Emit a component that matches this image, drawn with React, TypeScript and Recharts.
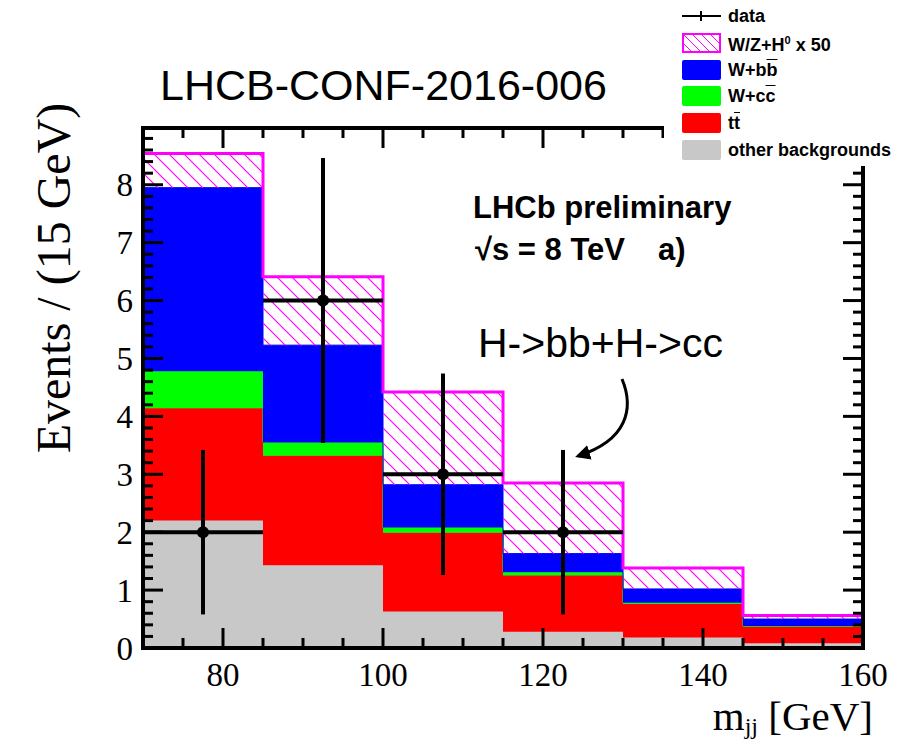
import React from 'react';
import { ComposedChart, Area, Scatter, ErrorBar, XAxis, YAxis } from 'recharts';

// histogram bins (GeV)
const binEdges = [70, 85, 100, 115, 130, 145, 160];

// stacked contributions per bin, bottom to top
const otherBackgrounds = [2.2, 1.43, 0.63, 0.28, 0.18, 0.08];
const ttbar = [1.94, 1.89, 1.36, 0.97, 0.58, 0.29];
const wcc = [0.64, 0.23, 0.09, 0.06, 0.02, 0.01];
const wbb = [3.17, 1.68, 0.74, 0.32, 0.24, 0.12];
const whTimes50 = [0.59, 1.18, 1.6, 1.22, 0.36, 0.06];

// data points
const dataX = [77.5, 92.5, 107.5, 122.5];
const dataY = [2, 6, 3, 2];
const dataErrY = [1.42, 2.46, 1.74, 1.42];
const dataErrX = [7.5, 7.5, 7.5, 7.5];

const xMajorTicks = [80, 100, 120, 140, 160];
const yMajorTicks = [0, 1, 2, 3, 4, 5, 6, 7, 8];
const X_MIN = 70;
const X_MAX = 160;
const Y_MAX = 8.98;

const xAllTicks: number[] = [];
for (let v = X_MIN; v <= X_MAX; v += 5) xAllTicks.push(v);
const yAllTicks: number[] = [];
for (let i = 0; i * 0.2 < Y_MAX; i++) yAllTicks.push(Math.round(i * 2) / 10);

// last edge repeats the last bin so the step reaches 160
const histRows = binEdges.map((x, i) => {
    const b = Math.min(i, otherBackgrounds.length - 1);
    return {
        x,
        other: otherBackgrounds[b],
        tt: ttbar[b],
        wcc: wcc[b],
        wbb: wbb[b],
        wh: whTimes50[b],
    };
});

const points = dataX.map((x, i) => ({ x, y: dataY[i], ex: dataErrX[i], ey: dataErrY[i] }));

const SERIF = '"Liberation Serif", "Times New Roman", serif';
const SANS = '"Liberation Sans", Arial, Helvetica, sans-serif';

const isMajor = (v: number, majors: number[]) => majors.some(m => Math.abs(m - v) < 1e-6);

const BottomTick = (props: any) => {
    const { x, y, payload } = props;
    const major = isMajor(payload.value, xMajorTicks);
    return (
        <g>
            <line x1={x} y1={y} x2={x} y2={y - (major ? 20 : 10)} stroke="#000" strokeWidth={3} />
            {major && (
                <text x={x} y={y + 38} textAnchor="middle" fontFamily={SERIF} fontSize={33} fill="#000">
                    {payload.value}
                </text>
            )}
        </g>
    );
};

const TopTick = (props: any) => {
    const { x, y, payload } = props;
    const major = isMajor(payload.value, xMajorTicks);
    return <line x1={x} y1={y} x2={x} y2={y + (major ? 20 : 10)} stroke="#000" strokeWidth={3} />;
};

const LeftTick = (props: any) => {
    const { x, y, payload } = props;
    const major = isMajor(payload.value, yMajorTicks);
    return (
        <g>
            <line x1={x} y1={y} x2={x + (major ? 20 : 10)} y2={y} stroke="#000" strokeWidth={3} />
            {major && (
                <text x={x - 10} y={y} dy="0.35em" textAnchor="end" fontFamily={SERIF} fontSize={33} fill="#000">
                    {payload.value}
                </text>
            )}
        </g>
    );
};

const RightTick = (props: any) => {
    const { x, y, payload } = props;
    const major = isMajor(payload.value, yMajorTicks);
    return <line x1={x} y1={y} x2={x - (major ? 20 : 10)} y2={y} stroke="#000" strokeWidth={3} />;
};

const DataDot = (props: any) => <circle cx={props.cx} cy={props.cy} r={6} fill="#000" />;

const frameLine = { stroke: '#000', strokeWidth: 4, strokeLinecap: 'square' as const };

const Swatch = ({ color }: { color: string }) => (
    <div style={{ width: 39, height: 20, background: color, borderRadius: 2 }} />
);

const legendRows = [
    {
        swatch: (
            <svg width={39} height={20}>
                <line x1={0} y1={10} x2={39} y2={10} stroke="#000" strokeWidth={2} />
                <line x1={19} y1={5} x2={19} y2={15} stroke="#000" strokeWidth={2} />
            </svg>
        ),
        label: <span>data</span>,
    },
    {
        swatch: (
            <svg width={39} height={20}>
                <defs>
                    <pattern id="hatchLegend" width={9} height={9} patternUnits="userSpaceOnUse">
                        <path d="M-2,-2 L11,11 M-2,7 L2,11 M7,-2 L11,2" stroke="#ff00ff" strokeWidth={1} />
                    </pattern>
                </defs>
                <rect x={1} y={1} width={37} height={18} fill="url(#hatchLegend)" stroke="#ff00ff" strokeWidth={2} />
            </svg>
        ),
        label: (
            <span>
                W/Z+H<sup style={{ fontSize: 11, verticalAlign: 7 }}>0</sup> x 50
            </span>
        ),
    },
    {
        swatch: <Swatch color="#0000ff" />,
        label: (
            <span>
                W+b<span style={{ textDecoration: 'overline' }}>b</span>
            </span>
        ),
    },
    {
        swatch: <Swatch color="#00ff00" />,
        label: (
            <span>
                W+c<span style={{ textDecoration: 'overline' }}>c</span>
            </span>
        ),
    },
    {
        swatch: <Swatch color="#ff0000" />,
        label: (
            <span>
                t<span style={{ textDecoration: 'overline' }}>t</span>
            </span>
        ),
    },
    { swatch: <Swatch color="#c8c8c8" />, label: <span>other backgrounds</span> },
];

export default function App() {
    return (
        <div style={{ position: 'absolute', left: 0, top: 0, width: 922, height: 742, background: '#fff' }}>
            <ComposedChart
                width={922}
                height={742}
                data={histRows}
                margin={{ top: 127, right: 58, bottom: 34, left: 83 }}
            >
                <defs>
                    <pattern id="hatch" width={15} height={15} patternUnits="userSpaceOnUse">
                        <path d="M-2,-2 L17,17 M-2,13 L2,17 M13,-2 L17,2" stroke="#ff00ff" strokeWidth={1.2} />
                    </pattern>
                </defs>

                <Area type="stepAfter" dataKey="other" stackId="s" fill="#c8c8c8" fillOpacity={1} stroke="#c8c8c8" strokeWidth={1} isAnimationActive={false} />
                <Area type="stepAfter" dataKey="tt" stackId="s" fill="#ff0000" fillOpacity={1} stroke="#ff0000" strokeWidth={1} isAnimationActive={false} />
                <Area type="stepAfter" dataKey="wcc" stackId="s" fill="#00ff00" fillOpacity={1} stroke="#00ff00" strokeWidth={1} isAnimationActive={false} />
                <Area type="stepAfter" dataKey="wbb" stackId="s" fill="#0000ff" fillOpacity={1} stroke="#0000ff" strokeWidth={1} isAnimationActive={false} />
                <Area type="stepAfter" dataKey="wh" stackId="s" fill="url(#hatch)" fillOpacity={1} stroke="#ff00ff" strokeWidth={3} isAnimationActive={false} />

                <Scatter data={points} dataKey="y" shape={DataDot} isAnimationActive={false}>
                    <ErrorBar dataKey="ex" direction="x" width={0} stroke="#000" strokeWidth={4} />
                    <ErrorBar dataKey="ey" direction="y" width={0} stroke="#000" strokeWidth={4} />
                </Scatter>

                <XAxis
                    dataKey="x"
                    type="number"
                    domain={[X_MIN, X_MAX]}
                    allowDataOverflow
                    ticks={xAllTicks}
                    interval={0}
                    height={60}
                    tickSize={0}
                    tickMargin={0}
                    tickLine={false}
                    axisLine={frameLine}
                    tick={BottomTick}
                />
                <XAxis
                    xAxisId="top"
                    orientation="top"
                    dataKey="x"
                    type="number"
                    domain={[X_MIN, X_MAX]}
                    allowDataOverflow
                    ticks={xAllTicks}
                    interval={0}
                    height={1}
                    tickSize={0}
                    tickMargin={0}
                    tickLine={false}
                    axisLine={frameLine}
                    tick={TopTick}
                />
                <YAxis
                    type="number"
                    domain={[0, Y_MAX]}
                    allowDataOverflow
                    ticks={yAllTicks}
                    interval={0}
                    width={60}
                    tickSize={0}
                    tickMargin={0}
                    tickLine={false}
                    axisLine={frameLine}
                    tick={LeftTick}
                />
                <YAxis
                    yAxisId="right"
                    orientation="right"
                    type="number"
                    domain={[0, Y_MAX]}
                    allowDataOverflow
                    ticks={yAllTicks}
                    interval={0}
                    width={1}
                    tickSize={0}
                    tickMargin={0}
                    tickLine={false}
                    axisLine={frameLine}
                    tick={RightTick}
                />
            </ComposedChart>

            {/* titles, annotations */}
            <svg width={922} height={742} style={{ position: 'absolute', left: 0, top: 0, pointerEvents: 'none' }}>
                <defs>
                    <marker id="arrowHead" viewBox="0 0 10 10" refX={8} refY={5} markerWidth={5} markerHeight={5} orient="auto">
                        <path d="M0,0 L10,5 L0,10 z" fill="#000" />
                    </marker>
                </defs>
                <text x={160} y={100} fontFamily={SANS} fontSize={43} fill="#000">LHCB-CONF-2016-006</text>
                <text x={473} y={218} fontFamily={SANS} fontSize={31} fontWeight={700} fill="#000">LHCb preliminary</text>
                <text x={475} y={260} fontFamily={SANS} fontSize={31} fontWeight={700} fill="#000">√s = 8 TeV</text>
                <text x={658} y={260} fontFamily={SANS} fontSize={31} fontWeight={700} fill="#000">a)</text>
                <text x={478} y={357} fontFamily={SANS} fontSize={41} fill="#000">H-&gt;bb+H-&gt;cc</text>
                <path d="M622,379 C634,408 628,440 578,456" fill="none" stroke="#000" strokeWidth={3} markerEnd="url(#arrowHead)" />
                <text
                    x={0}
                    y={0}
                    transform="translate(70,278) rotate(-90)"
                    textAnchor="middle"
                    fontFamily={SERIF}
                    fontSize={48}
                    fill="#000"
                >
                    Events / (15 GeV)
                </text>
                <text x={873} y={730} textAnchor="end" fontFamily={SERIF} fontSize={41} fill="#000">
                    m<tspan fontSize={24} dy={4}>jj</tspan>
                    <tspan dy={-4}> [GeV]</tspan>
                </text>
            </svg>

            {/* legend box */}
            <div
                style={{
                    position: 'absolute',
                    left: 664,
                    top: 0,
                    width: 258,
                    height: 166,
                    background: '#fff',
                    fontFamily: SANS,
                    fontWeight: 700,
                    fontSize: 18,
                    color: '#000',
                }}
            >
                {legendRows.map((row, i) => (
                    <div
                        key={i}
                        style={{ position: 'absolute', left: 18, top: 6 + i * 26.8, height: 20, display: 'flex', alignItems: 'center' }}
                    >
                        {row.swatch}
                        <div style={{ marginLeft: 7, whiteSpace: 'nowrap', lineHeight: '20px' }}>{row.label}</div>
                    </div>
                ))}
            </div>
        </div>
    );
}
